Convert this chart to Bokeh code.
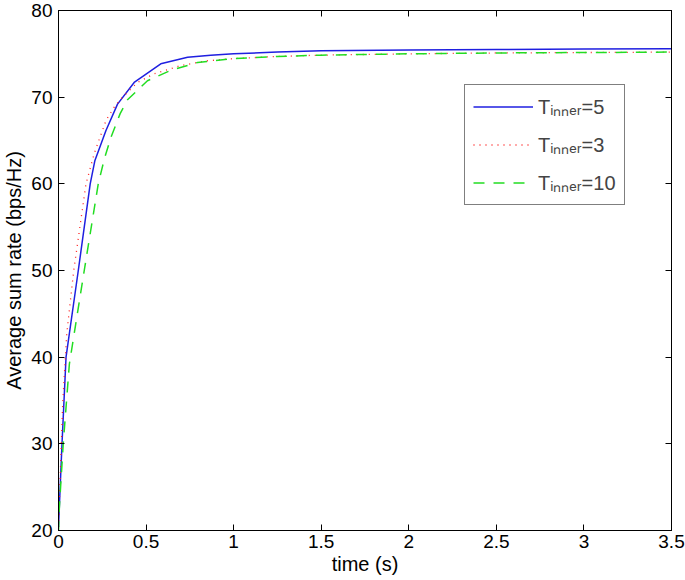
from bokeh.plotting import figure
from bokeh.models import LinearAxis, FixedTicker, Legend, LegendItem, Range1d, CustomJSTickFormatter
from bokeh.embed import file_html
from bokeh.resources import INLINE

# ---- data ----
t_blue = [0, 0.02, 0.043, 0.113, 0.181, 0.208, 0.25, 0.271, 0.337, 0.432, 0.584, 0.737, 0.869,
          1.0, 1.25, 1.5, 2.0, 2.5, 3.0, 3.5]
r_blue = [20.4, 30.0, 40.0, 50.0, 60.0, 62.7, 65.0, 66.15, 69.2, 71.7, 73.85, 74.6, 74.85,
          75.0, 75.2, 75.35, 75.45, 75.5, 75.55, 75.6]

t_red = [0, 0.024, 0.047, 0.087, 0.157, 0.204, 0.271, 0.318, 0.356, 0.451, 0.546, 0.698, 0.85,
         1.0, 1.25, 1.5, 2.0, 2.5, 3.0, 3.5]
r_red = [20.4, 34.6, 42.7, 50.0, 60.0, 63.5, 67.3, 68.85, 69.8, 71.7, 72.7, 73.65, 74.2,
         74.45, 74.7, 74.85, 75.0, 75.1, 75.15, 75.2]

t_green = [0, 0.005, 0.027, 0.062, 0.147, 0.227, 0.262, 0.3, 0.352, 0.394, 0.508, 0.641, 0.794,
           1.0, 1.25, 1.5, 2.0, 2.5, 3.0, 3.5]
r_green = [19.8, 22.7, 30.0, 39.2, 50.0, 60.0, 62.9, 65.4, 68.1, 69.7, 71.9, 73.1, 74.0,
           74.45, 74.7, 74.85, 75.0, 75.1, 75.15, 75.2]

labels = ["T\u1d62\u2099\u2099\u2091\u1d63=5", "T\u1d62\u2099\u2099\u2091\u1d63=3",
          "T\u1d62\u2099\u2099\u2091\u1d63=10"]
x_ticks = [0, 0.5, 1, 1.5, 2, 2.5, 3, 3.5]
y_ticks = [20, 30, 40, 50, 60, 70, 80]

FONT = "Liberation Sans"
TICK_FS = "19px"
LABEL_FS = "20px"

p = figure(width=685, height=580, output_backend="svg", toolbar_location=None,
           x_range=Range1d(0, 3.5), y_range=Range1d(20, 80),
           min_border_left=57, min_border_right=14, min_border_top=10, min_border_bottom=50)

p.grid.visible = False
p.outline_line_color = "black"
p.outline_line_width = 1
p.background_fill_color = "white"
p.border_fill_color = "white"

for ax in (p.xaxis[0], p.yaxis[0]):
    ax.major_tick_in = 6
    ax.major_tick_out = 0
    ax.minor_tick_line_color = None
    ax.axis_line_color = "black"
    ax.major_label_text_font = FONT
    ax.major_label_text_font_size = TICK_FS
    ax.major_label_text_color = "black"
    ax.axis_label_text_font = FONT
    ax.axis_label_text_font_size = LABEL_FS
    ax.axis_label_text_font_style = "normal"
    ax.axis_label_text_color = "black"

p.xaxis.ticker = FixedTicker(ticks=x_ticks)
p.yaxis.ticker = FixedTicker(ticks=y_ticks)
p.xaxis.axis_label = "time (s)"
p.yaxis.axis_label = "Average sum rate (bps/Hz)"
p.xaxis.major_label_standoff = 4
p.yaxis.major_label_standoff = 6
p.xaxis.axis_label_standoff = 2
p.yaxis.axis_label_standoff = 3

# box-style ticks on top and right (no labels)
blank = CustomJSTickFormatter(code="return '';")
top = LinearAxis(ticker=FixedTicker(ticks=x_ticks), formatter=blank,
                 major_label_text_font_size="1px",
                 major_tick_in=6, major_tick_out=0, minor_tick_line_color=None,
                 major_label_standoff=0, axis_line_color="black")
right = LinearAxis(ticker=FixedTicker(ticks=y_ticks), formatter=blank,
                   major_label_text_font_size="1px",
                   major_tick_in=6, major_tick_out=0, minor_tick_line_color=None,
                   major_label_standoff=0, axis_line_color="black")
p.add_layout(top, "above")
p.add_layout(right, "right")

lb = p.line(t_blue, r_blue, line_color="#1f1fe0", line_width=1.5)
lr = p.line(t_red, r_red, line_color="#ff2020", line_width=1.3, line_dash="1 5")
lg = p.line(t_green, r_green, line_color="#22dd22", line_width=1.5, line_dash="11 9")

legend = Legend(items=[LegendItem(label=labels[0], renderers=[lb]),
                       LegendItem(label=labels[1], renderers=[lr]),
                       LegendItem(label=labels[2], renderers=[lg])],
                location=(406, 325), label_text_font=FONT, label_text_font_size="20px",
                glyph_width=60, glyph_height=25, label_height=25, spacing=11,
                padding=8, margin=0, border_line_color="black", border_line_width=1,
                background_fill_alpha=1.0, label_standoff=5)
p.add_layout(legend, "center")

open("out.html", "w").write(file_html(p, INLINE))
